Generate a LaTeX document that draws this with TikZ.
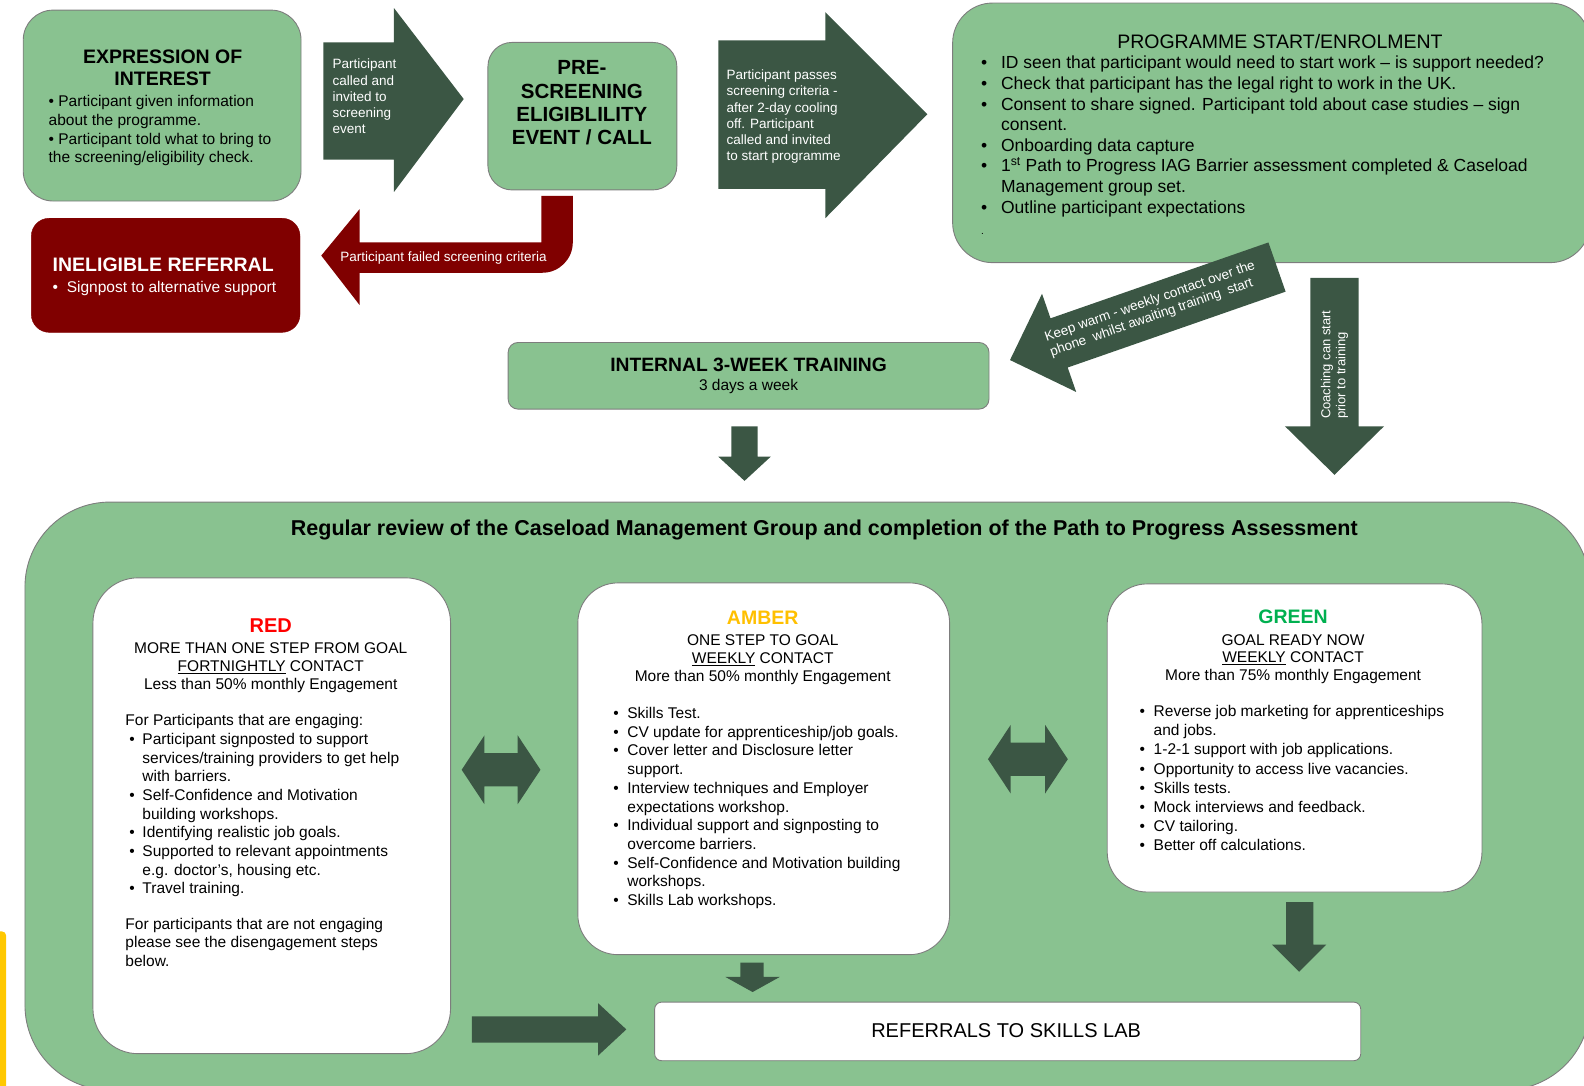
\documentclass[tikz,border=0pt]{standalone}
\usepackage{fontspec}
\setmainfont{Liberation Sans}
\usetikzlibrary{fit}
\definecolor{lgreen}{RGB}{137,194,144}
\definecolor{dgreen}{RGB}{59,86,68}
\definecolor{dred}{RGB}{128,0,0}
\definecolor{bgray}{RGB}{125,125,125}
\definecolor{ambercol}{RGB}{255,192,0}
\definecolor{ggreen}{RGB}{0,176,80}
\definecolor{rred}{RGB}{255,0,0}
\definecolor{yellowstrip}{RGB}{255,200,0}
\newcommand{\fs}[2]{\fontsize{#1}{#2}\selectfont}
\newcommand{\mybul}[1]{\makebox[#1][l]{\textbullet}}
\begin{document}
\begin{tikzpicture}[x=1.0102pt, y=-1.0102pt,
 gbox/.style={fill=lgreen, draw=bgray, line width=0.9pt, inner sep=0pt},
 wbox/.style={fill=white, draw=bgray, line width=0.9pt, inner sep=0pt},
 darr/.style={fill=dgreen, draw=none},
 rarr/.style={fill=dred, draw=none},
 wtxt/.style={text=white, inner sep=0pt, align=left, font=\fs{13.5}{16.2}},
 body/.style={inner sep=0pt, align=left, font=\fs{15.5}{18.7}},
 ctr/.style={inner sep=0pt, align=center},
]
\useasboundingbox (0,0) rectangle (1568,1075);

% ---------- bottom container ----------
\node[gbox, rounded corners=85pt, fit={(24.7,497) (1574,1079)}] (review) {};
\path[fill=yellowstrip, rounded corners=4pt] (-6,922) rectangle (6,1085);
\node[ctr, font=\bfseries\fs{21.5}{24}] (revT) at (816,525) {Regular review of the Caseload Management Group and completion of the Path to Progress Assessment};

% ---------- expression of interest ----------
\node[gbox, rounded corners=30pt, fit={(23,10) (298,199)}] (eoi) {};
\node[ctr, font=\bfseries\fs{19.5}{22.2}] (eoiT) at (161,67) {EXPRESSION OF\\INTEREST};
\node[body, anchor=north west] (eoiB) at (48,94.5) {\textbullet{} Participant given information\\about the programme.\\\textbullet{} Participant told what to bring to\\the screening/eligibility check.};

% arrow 1
\fill[darr] (320,42) -- (390,42) -- (390,8) -- (459,98) -- (390,190) -- (390,158) -- (320,158) -- cycle;
\node[wtxt, anchor=north west] (a1t) at (329,58.3) {Participant\\called and\\invited to\\screening\\event};

% ---------- pre-screening ----------
\node[gbox, rounded corners=24pt, fit={(483,42) (670,188)}] (pre) {};
\node[ctr, font=\bfseries\fs{20.5}{23.4}] (preT) at (576,102) {PRE-\\SCREENING\\ELIGIBLILITY\\EVENT / CALL};

% arrow 2
\fill[darr] (711,40) -- (817,40) -- (817,12) -- (918,113) -- (817,216) -- (817,187) -- (711,187) -- cycle;
\node[wtxt, anchor=north west] (a2t) at (719,69) {Participant passes\\screening criteria -\\after 2-day cooling\\off. Participant\\called and invited\\to start programme};

% ---------- programme start ----------
\node[gbox, rounded corners=40pt, fit={(943,3) (1574,260)}] (prog) {};
\node[ctr, font=\fs{19.5}{22}] (progT) at (1267,41) {PROGRAMME START/ENROLMENT};
\node[inner sep=0pt, align=left, font=\fs{17.5}{20.6}, anchor=north west] (progB) at (971,55.5) {\mybul{20pt}ID seen that participant would need to start work – is support needed?\\
\mybul{20pt}Check that participant has the legal right to work in the UK.\\
\mybul{20pt}Consent to share signed. Participant told about case studies – sign\\
\hspace*{20pt}consent.\\
\mybul{20pt}Onboarding data capture\\
\mybul{20pt}1\textsuperscript{st} Path to Progress IAG Barrier assessment completed \& Caseload\\
\hspace*{20pt}Management group set.\\
\mybul{20pt}Outline participant expectations\\[1pt]
{\fs{10}{12}.}};

% ---------- ineligible referral ----------
\node[fill=dred, draw=dred, rounded corners=18pt, inner sep=0pt, fit={(31,216) (297,329)}] (inel) {};
\node[inner sep=0pt, anchor=west, text=white, font=\bfseries\fs{19.5}{22}] (inelT) at (52,262.5) {INELIGIBLE REFERRAL};
\node[inner sep=0pt, anchor=west, text=white, font=\fs{15.5}{18}] (inelB) at (52,285.5) {\textbullet\ \ Signpost to alternative support};

% failed arrow
\fill[rarr] (318,253) -- (356,207) -- (356,240) -- (536,240) -- (536,194) -- (567,194) -- (567,240) .. controls (567,256.5) and (553.5,270) .. (537,270) -- (356,270) -- (356,302) -- cycle;
\node[text=white, inner sep=0pt, font=\fs{13.5}{16}] (failT) at (439,255) {Participant failed screening criteria};

% keep warm arrow
\fill[darr] (999.8,356.4) -- (1031.5,290.8) -- (1039.9,315.1) -- (1255.6,240.0) -- (1272.6,288.7) -- (1056.9,363.8) -- (1065.3,388.0) -- cycle;
\node[wtxt, font=\fs{13.5}{15.5}, rotate=19.2] (warmT) at (1141,306) {Keep warm - weekly contact over the\\phone\ \ whilst awaiting training\ \ start};

% coaching arrow
\fill[darr] (1297,275) -- (1345,275) -- (1345,422) -- (1370,422) -- (1321,470) -- (1272,422) -- (1297,422) -- cycle;
\node[wtxt, font=\fs{13}{15}, rotate=90] (coachT) at (1321,361) {Coaching can start\\prior to training};

% ---------- training ----------
\node[gbox, rounded corners=10pt, fit={(503,339) (979,405)}] (train) {};
\node[ctr, font=\bfseries\fs{19.3}{22}] (trainT) at (741,361) {INTERNAL 3-WEEK TRAINING};
\node[ctr, font=\fs{15.5}{18}] (trainS) at (741,383) {3 days a week};
\fill[darr] (724,422) -- (750,422) -- (750,452) -- (763,452) -- (737,476) -- (711,452) -- (724,452) -- cycle;

% ---------- RED ----------
\node[wbox, rounded corners=45pt, fit={(92,572) (446,1043)}] (redb) {};
\node[ctr, text=rred, font=\bfseries\fs{20}{22}] (redT) at (268,619) {RED};
\node[ctr, font=\fs{15.5}{18.2}] (redH) at (268,661) {MORE THAN ONE STEP FROM GOAL\\\underline{FORTNIGHTLY} CONTACT\\Less than 50\% monthly Engagement};
\node[body, anchor=north west] (redB) at (124,707) {For Participants that are engaging:\\
\hspace*{4pt}\mybul{13pt}Participant signposted to support\\
\hspace*{17pt}services/training providers to get help\\
\hspace*{17pt}with barriers.\\
\hspace*{4pt}\mybul{13pt}Self-Confidence and Motivation\\
\hspace*{17pt}building workshops.\\
\hspace*{4pt}\mybul{13pt}Identifying realistic job goals.\\
\hspace*{4pt}\mybul{13pt}Supported to relevant appointments\\
\hspace*{17pt}e.g. doctor's, housing etc.\\
\hspace*{4pt}\mybul{13pt}Travel training.\\[16.5pt]
For participants that are not engaging\\
please see the disengagement steps\\
below.};

% ---------- AMBER ----------
\node[wbox, rounded corners=40pt, fit={(572,577) (940,945)}] (amb) {};
\node[ctr, text=ambercol, font=\bfseries\fs{19.5}{22}] (ambT) at (755,611.5) {AMBER};
\node[ctr, font=\fs{15.5}{17.7}] (ambH) at (755,653) {ONE STEP TO GOAL\\\underline{WEEKLY} CONTACT\\More than 50\% monthly Engagement};
\node[body, anchor=north west] (ambB) at (607,700) {\mybul{14pt}Skills Test.\\
\mybul{14pt}CV update for apprenticeship/job goals.\\
\mybul{14pt}Cover letter and Disclosure letter\\
\hspace*{14pt}support.\\
\mybul{14pt}Interview techniques and Employer\\
\hspace*{14pt}expectations workshop.\\
\mybul{14pt}Individual support and signposting to\\
\hspace*{14pt}overcome barriers.\\
\mybul{14pt}Self-Confidence and Motivation building\\
\hspace*{14pt}workshops.\\
\mybul{14pt}Skills Lab workshops.};

% ---------- GREEN ----------
\node[wbox, rounded corners=40pt, fit={(1096,578) (1467,883)}] (grn) {};
\node[ctr, text=ggreen, font=\bfseries\fs{19.5}{22}] (grnT) at (1280,610.5) {GREEN};
\node[ctr, font=\fs{15.5}{17.7}] (grnH) at (1280,652.5) {GOAL READY NOW\\\underline{WEEKLY} CONTACT\\More than 75\% monthly Engagement};
\node[body, anchor=north west, font=\fs{15.5}{19.2}] (grnB) at (1128,698) {\mybul{14pt}Reverse job marketing for apprenticeships\\
\hspace*{14pt}and jobs.\\
\mybul{14pt}1-2-1 support with job applications.\\
\mybul{14pt}Opportunity to access live vacancies.\\
\mybul{14pt}Skills tests.\\
\mybul{14pt}Mock interviews and feedback.\\
\mybul{14pt}CV tailoring.\\
\mybul{14pt}Better off calculations.};

% ---------- double arrows ----------
\fill[darr] (457,762) -- (479.5,728) -- (479.5,745.5) -- (512.5,745.5) -- (512.5,728) -- (535,762) -- (512.5,796) -- (512.5,778.5) -- (479.5,778.5) -- (479.5,796) -- cycle;
\fill[darr] (978,751.5) -- (1000.5,717.5) -- (1000.5,735) -- (1034.5,735) -- (1034.5,717.5) -- (1057,751.5) -- (1034.5,785.5) -- (1034.5,768) -- (1000.5,768) -- (1000.5,785.5) -- cycle;

% ---------- arrows to referrals ----------
\fill[darr] (1273,893) -- (1300,893) -- (1300,935) -- (1313,935) -- (1286,962) -- (1259,935) -- (1273,935) -- cycle;
\fill[darr] (733,953) -- (756,953) -- (756,967) -- (772,967) -- (745,982) -- (718,967) -- (733,967) -- cycle;
\fill[darr] (467,1006) -- (592,1006) -- (592,993) -- (620,1019) -- (592,1045) -- (592,1032) -- (467,1032) -- cycle;

% ---------- referrals ----------
\node[wbox, rounded corners=7pt, fit={(648,992) (1347,1050)}] (refs) {};
\node[ctr, font=\fs{20}{22}] (refsT) at (996,1020) {REFERRALS TO SKILLS LAB};
\end{tikzpicture}
\end{document}
